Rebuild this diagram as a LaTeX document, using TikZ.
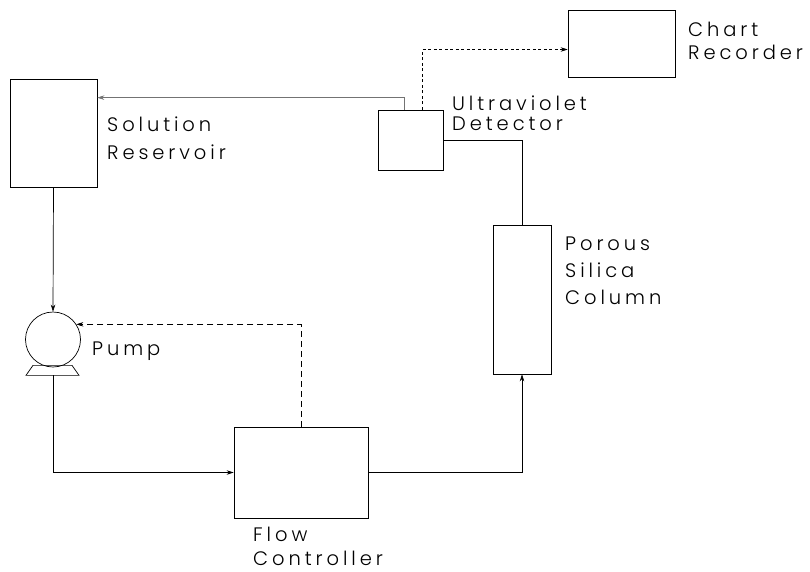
\documentclass[tikz,border=0pt]{standalone}
\usepackage{fontspec}
\IfFontExistsTF{Poppins Light}
  {\newfontfamily\lblfont[LetterSpace=20]{Poppins Light}}
  {\newfontfamily\lblfont[LetterSpace=20]{Poppins}}
\usetikzlibrary{arrows.meta, positioning, calc}

\begin{document}
\begin{tikzpicture}[
    x=1pt, y=-1pt,
    box/.style={draw, line width=0.7pt, inner sep=0pt},
    lbl/.style={align=left, anchor=north west, inner sep=0pt,
                font=\lblfont\fontsize{19.5}{#1}\selectfont},
    pipe/.style={line width=0.7pt},
    arrow/.style={pipe, -{Stealth[length=7pt, width=4.5pt]}},
    signal/.style={line width=0.6pt, dash pattern=on 6pt off 4pt,
                   -{Stealth[length=7pt, width=4.5pt]}},
    readout/.style={line width=0.5pt, dash pattern=on 3pt off 2.5pt,
                    -{Stealth[length=7pt, width=4.5pt]}},
    feedback/.style={line width=0.5pt, draw=black!55,
                     -{Stealth[length=7pt, width=4.5pt]}}
]
\useasboundingbox (0,0) rectangle (810,572);

\node[box, minimum width=87pt, minimum height=108pt] (res) at (53.5,133) {};
\node[box, circle, minimum size=55pt] (pump) at (53,339.5) {};
\node[box, minimum width=134pt, minimum height=91pt] (ctrl) at (301,472.5) {};
\node[box, minimum width=58pt, minimum height=149pt] (col) at (522,299.5) {};
\node[box, minimum width=65pt, minimum height=60pt] (det) at (410.5,140) {};
\node[box, minimum width=107pt, minimum height=67pt] (chart) at (621.5,43.5) {};

\draw[pipe] ($(pump.south)+(-20,-2)$) -- ($(pump.south)+(19,-2)$)
    -- ($(pump.south)+(26,8)$) -- ($(pump.south)+(-27,8)$) -- cycle;
\coordinate (foot) at ($(pump.south)+(0,8)$);

\node[lbl=28] (reslbl) at (107,117) {Solution\\Reservoir};
\node[lbl=27] (pumplbl) at (92,342) {Pump};
\node[lbl=24] (ctrllbl) at (253,527) {Flow\\Controller};
\node[lbl=27] (collbl) at (565,237) {Porous\\Silica\\Column};
\node[lbl=20] (detlbl) at (452,96) {Ultraviolet\\Detector};
\node[lbl=23] (chartlbl) at (688,22) {Chart\\Recorder};

\draw[arrow] (res.south) -- (pump.north);
\draw[arrow] (foot) |- (ctrl.west);
\draw[arrow] (ctrl.east) -| (col.south);
\draw[pipe] (col.north) |- (det.east);
\draw[feedback] ([xshift=-6pt]det.north) |- ([yshift=-19pt]res.north east);
\draw[readout] ([xshift=12pt]det.north) |- ([yshift=-6pt]chart.west);
\draw[signal] (ctrl.north) |- (pump.33);
\end{tikzpicture}
\end{document}
